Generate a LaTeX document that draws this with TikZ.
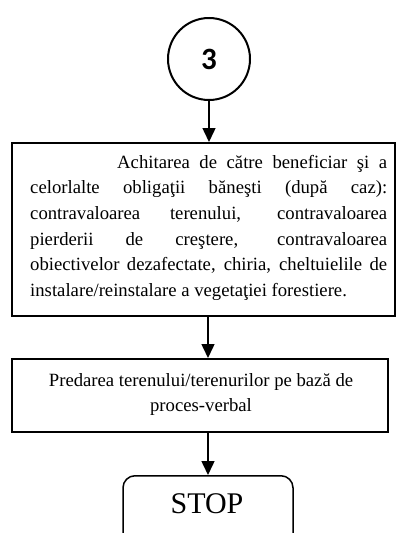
\documentclass[tikz,border=0pt]{standalone}
\usepackage{fontspec}
\setmainfont{Liberation Serif}
\newfontfamily\digitfont{Carlito}
\usetikzlibrary{arrows.meta}
\begin{document}
\begin{tikzpicture}[x=1pt,y=-1pt,
  arr/.style={line width=1.5pt,-{Triangle[length=14pt,width=13pt]}},
  boxline/.style={draw, line width=1.5pt, rectangle, inner sep=0pt},
  bodytext/.style={inner sep=0pt, font=\fontsize{18.7}{25.7}\selectfont},
]
\useasboundingbox (0,0) rectangle (396,533);
\node[circle, draw, line width=2pt, minimum size=82pt, inner sep=0pt] (c) at (209,59)
  {\digitfont\bfseries\fontsize{31}{31}\selectfont 3};
\node[boxline, minimum width=383pt, minimum height=173pt, anchor=north west] (b1) at (11,142) {};
\node[bodytext, anchor=base west] (t1) at (30,168) {\begin{minipage}[t]{357pt}\hyphenpenalty=10000
\hspace*{87pt}Achitarea de către beneficiar şi a\linebreak
celorlalte obligaţii băneşti (după caz):\linebreak
contravaloarea terenului, contravaloarea\linebreak
pierderii de creştere, contravaloarea\linebreak
obiectivelor dezafectate, chiria, cheltuielile de\linebreak
instalare/reinstalare a vegetaţiei forestiere.
\end{minipage}};
\node[boxline, minimum width=376pt, minimum height=73pt, anchor=north west] (b2) at (11,358) {};
\node[inner sep=0pt, font=\fontsize{18.7}{25}\selectfont, anchor=base] (t2) at (201,386.5) {\begin{minipage}[t]{376pt}\centering
Predarea terenului/terenurilor pe bază de\\
proces-verbal
\end{minipage}};
\node[draw, line width=1.5pt, rounded corners=12pt, minimum width=170pt, minimum height=80pt, anchor=north, inner sep=0pt] (s) at (208,475) {};
\node[inner sep=0pt, anchor=base, font=\fontsize{30}{30}\selectfont] (st) at (207,513) {STOP};
\draw[arr] (c.south) -- (c.south |- b1.north);
\draw[arr] (b1.south -| s.north) -- (b2.north -| s.north);
\draw[arr] (b2.south -| s.north) -- (s.north);
\end{tikzpicture}
\end{document}
